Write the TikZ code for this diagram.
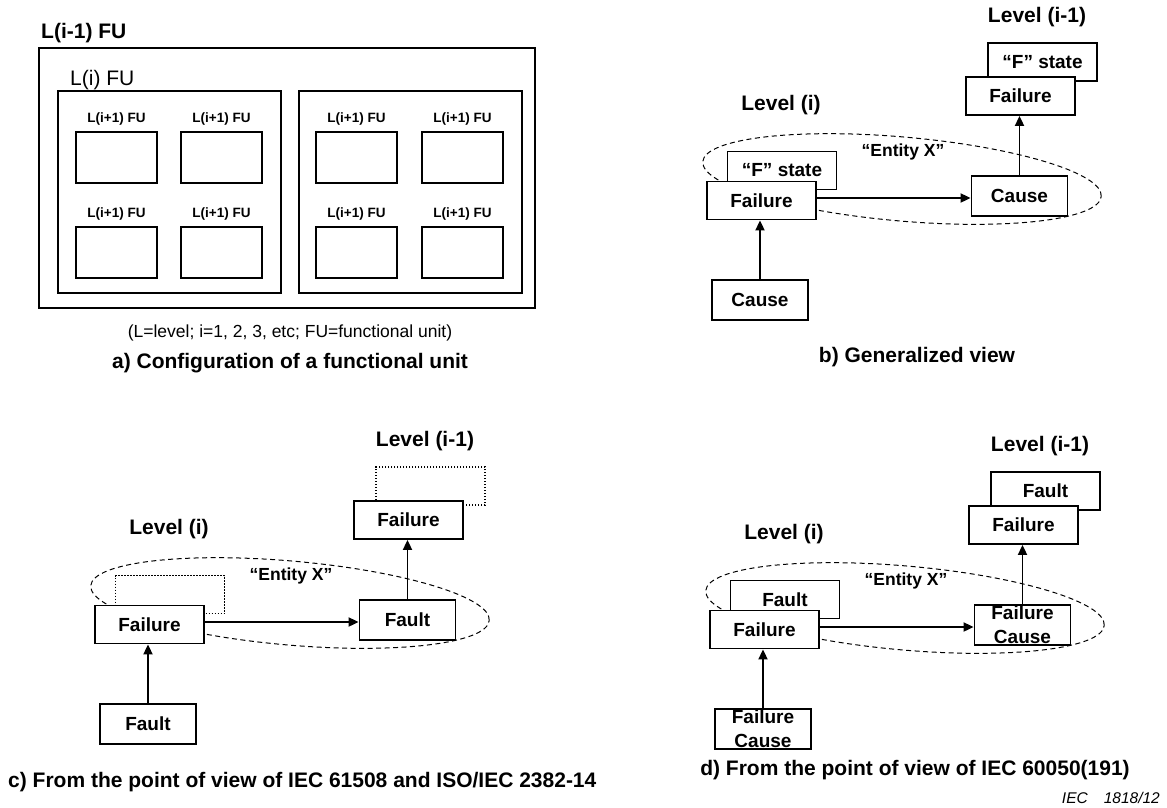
\documentclass[tikz,border=0pt]{standalone}
\usepackage{fontspec}
\setmainfont{Liberation Sans}
\usetikzlibrary{arrows.meta}

\tikzset{
  lineframe/.style={draw, line width=1.8pt, inner sep=0pt},
  unitframe/.style={lineframe, line width=2pt},
  fubox/.style={lineframe, line width=2pt, minimum width=81pt, minimum height=51pt},
  fulabel/.style={font=\fontsize{13.5}{16}\selectfont\bfseries, inner sep=0pt},
  chainbox/.style={lineframe, fill=white, minimum width=109pt, minimum height=38pt,
                   font=\fontsize{19}{22}\selectfont\bfseries},
  causebox/.style={chainbox, minimum width=96pt, minimum height=40pt},
  dotbox/.style={chainbox, line width=1.4pt, dash pattern=on 1.4pt off 1.6pt},
  boxtext/.style={font=\fontsize{19}{24}\selectfont\bfseries, align=center, inner sep=0pt},
  lvl/.style={font=\fontsize{21}{25}\selectfont\bfseries, inner sep=0pt},
  enttext/.style={font=\fontsize{17.5}{20}\selectfont\bfseries, inner sep=0pt},
  capt/.style={font=\fontsize{21}{25}\selectfont\bfseries, inner sep=0pt},
  notetext/.style={font=\fontsize{17.5}{20}\selectfont, inner sep=0pt},
  arr/.style={line width=1.8pt, -{Triangle[length=10pt,width=9pt]}},
  entityring/.style={line width=1pt, dash pattern=on 5pt off 3.5pt},
}

% One failure/cause chain across two levels.
% #1 name prefix, #2 shift, #3 style of the boxes behind,
% #4 text of the boxes behind, #5 text of the right box, #6 text of the bottom box
\newcommand{\chainpanel}[6]{%
  \begin{scope}[shift={#2}]
    \begin{scope}[shift={(902,179)}, rotate=-5]
      \draw[entityring] (0,0) ellipse [x radius=200pt, y radius=42pt];
    \end{scope}
    \node[lvl] (#1-lvlup) at (1037,17) {Level (i-1)};
    \node[lvl] (#1-lvl) at (781,105) {Level (i)};
    \node[enttext] (#1-ent) at (903,152) {“Entity X”};
    \node[#3] (#1-ub) at (1042.5,62) {#4};
    \node[chainbox] (#1-uf) at (1020.5,96) {Failure};
    \node[#3] (#1-lb) at (782,170.5) {#4};
    \node[chainbox] (#1-lf) at (761.5,200.5) {Failure};
    \node[causebox] (#1-rt) at (1019.5,196) {};
    \node[boxtext] (#1-rtt) at (#1-rt) {#5};
    \node[causebox] (#1-bt) at (760,300) {};
    \node[boxtext] (#1-btt) at (#1-bt) {#6};
    \coordinate (#1-as) at ([yshift=2.5pt]#1-lf.east);
    \draw[arr] (#1-as) -- (#1-as -| #1-rt.west);
    \draw[arr] (#1-rt.north) -- (#1-rt.north |- #1-uf.south);
    \draw[arr] (#1-bt.north) -- (#1-bt.north |- #1-lf.south);
  \end{scope}}

\begin{document}
\begin{tikzpicture}[x=1pt,y=-1pt]
\useasboundingbox (0,0) rectangle (1167,807);

% a) nested functional units
\node[lvl, anchor=west] (a-title) at (41,33) {L(i-1) FU};
\node[unitframe, minimum width=496pt, minimum height=260pt] (a-outer) at (287,178) {};
\node[anchor=west, inner sep=0pt, font=\fontsize{21}{25}\selectfont] (a-sub) at (70,80) {L(i) FU};
\node[unitframe, minimum width=223pt, minimum height=202pt] (a-left) at (169.5,192) {};
\node[unitframe, minimum width=223pt, minimum height=202pt] (a-right) at (410.5,192) {};
\foreach \x/\n in {76/1,181/2,316/3,422/4}{
  \foreach \y/\m in {132/1,227/2}{
    \node[fubox] (fu\n\m) at (\x+40.5,\y+25.5) {};
    \node[fulabel] (ful\n\m) at (\x+40.5,\y-12.5) {L(i+1) FU};
  }
}
\node[notetext] (a-note) at (290,333) {(L=level; i=1, 2, 3, etc; FU=functional unit)};
\node[capt] (a-cap) at (290,363) {a) Configuration of a functional unit};

% b) generalized view
\chainpanel{b}{(0,0)}{chainbox}{“F” state}{Cause}{Cause}
\node[capt] (b-cap) at (917,357) {b) Generalized view};

% c) IEC 61508 and ISO/IEC 2382-14
\chainpanel{c}{(-612,424)}{dotbox}{}{Fault}{Fault}
\node[capt, anchor=west] (c-cap) at (8,782) {c) From the point of view of IEC 61508 and ISO/IEC 2382-14};

% d) IEC 60050(191)
\chainpanel{d}{(3,429)}{chainbox}{Fault}{Failure\\Cause}{Failure\\Cause}
\node[capt] (d-cap) at (915,770) {d) From the point of view of IEC 60050(191)};

\node[anchor=east, inner sep=0pt, font=\fontsize{15.5}{18}\selectfont\itshape] (ref) at (1160,798) {IEC\hspace{16pt}1818/12};
\end{tikzpicture}
\end{document}
